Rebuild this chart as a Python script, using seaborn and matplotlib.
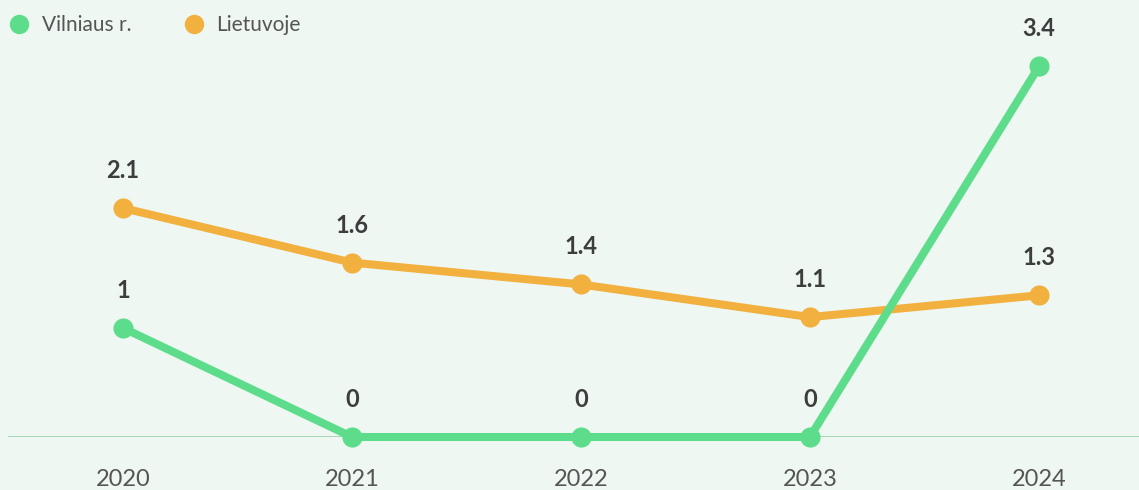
import matplotlib
matplotlib.use("Agg")
import matplotlib.pyplot as plt
from matplotlib.lines import Line2D
import seaborn as sns
import pandas as pd

years = ["2020", "2021", "2022", "2023", "2024"]
vilniaus = [1, 0, 0, 0, 3.4]
lietuvoje = [2.1, 1.6, 1.4, 1.1, 1.3]
series_names = ["Vilniaus r.", "Lietuvoje"]

BG = "#eef7f2"
GREEN = "#5ddd8b"
ORANGE = "#f2b03f"
LABEL = "#3d3d3d"
TICK = "#555555"

sns.set_theme(style="white")
plt.rcParams["font.family"] = ["Lato", "DejaVu Sans"]

df = pd.DataFrame({
    "idx": list(range(len(years))) * 2,
    "value": vilniaus + lietuvoje,
    "series": [series_names[0]] * len(years) + [series_names[1]] * len(years),
})

fig = plt.figure(figsize=(11.39, 4.9), dpi=100, facecolor=BG)
ax = fig.add_axes([8 / 1139, 53 / 490, 1 - 8 / 1139, 437 / 490])
ax.set_facecolor(BG)

ax.axhline(0, color="#9fd3af", lw=1.3, zorder=1)

palette = {series_names[0]: GREEN, series_names[1]: ORANGE}
sns.lineplot(data=df, x="idx", y="value", hue="series", palette=palette,
             hue_order=[series_names[1], series_names[0]],
             marker="o", markersize=14.5, markeredgewidth=0, linewidth=5.8,
             legend=False, ax=ax, zorder=3, clip_on=False)

for vals in (vilniaus, lietuvoje):
    for i, v in enumerate(vals):
        ax.annotate(f"{v:g}", (i, v), xytext=(0, 27), textcoords="offset points",
                    ha="center", va="center", fontsize=17, fontweight="bold",
                    color=LABEL)

ax.set_xlim(-115 / 229, 4 + 100 / 229)
ax.set_ylim(0, 437 / 109)
ax.set_xticks(range(len(years)))
ax.set_xticklabels(years, fontsize=17, color=TICK)
ax.tick_params(axis="x", length=0, pad=23)
ax.set_yticks([])
ax.set_xlabel("")
ax.set_ylabel("")
for s in ax.spines.values():
    s.set_visible(False)

handles = [Line2D([], [], marker="o", linestyle="none", markersize=14,
                  markerfacecolor=c, markeredgewidth=0)
           for c in (GREEN, ORANGE)]
fig.legend(handles, series_names, loc="upper left",
           bbox_to_anchor=(0.0, 1 - 7 / 490),
           ncol=2, frameon=False, fontsize=15, labelcolor=TICK,
           handletextpad=0.6, columnspacing=2.5, borderaxespad=0.0,
           handlelength=1.0)

fig.savefig("out.png", dpi=100, facecolor=BG)
